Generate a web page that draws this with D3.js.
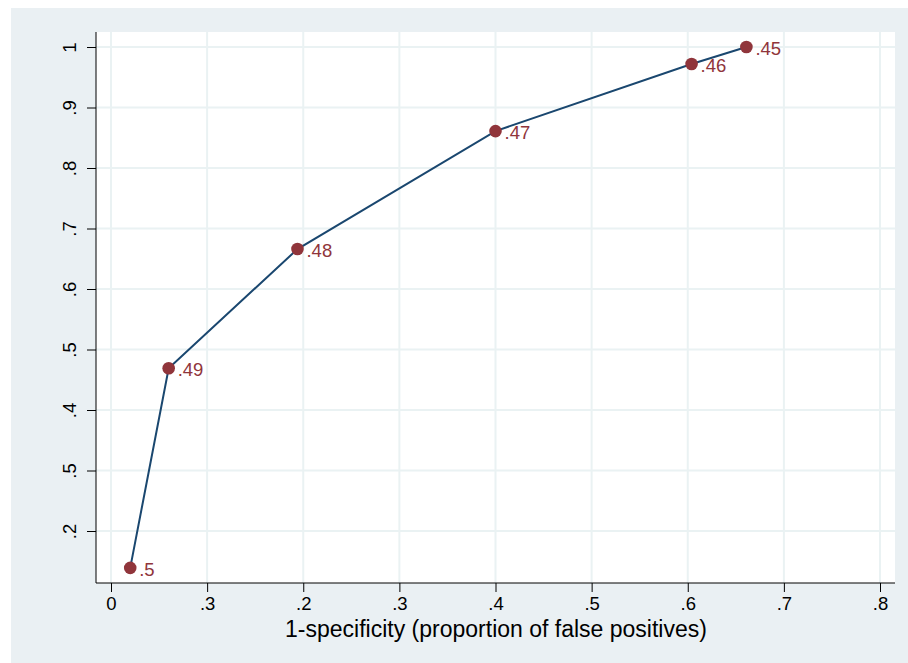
<!DOCTYPE html>
<html>
<head>
<meta charset="utf-8">
<title>ROC curve</title>
<script src="https://cdn.jsdelivr.net/npm/d3@7"></script>
<style>
  body { margin: 0; background: #fff; }
  text { font-family: "Liberation Sans", Arial, sans-serif; }
</style>
</head>
<body>
<div id="chart"></div>
<script>
// points of the curve: x = 1-specificity, y = sensitivity, label = cutoff
var fpr = [0.02, 0.06, 0.194, 0.4, 0.604, 0.661];
var tpr = [0.139, 0.469, 0.666, 0.861, 0.972, 1.0];
var cutLabels = [".5", ".49", ".48", ".47", ".46", ".45"];

// tick positions and the labels as printed on the picture
var xTicks = [0, 0.1, 0.2, 0.3, 0.4, 0.5, 0.6, 0.7, 0.8];
var xTickLabels = ["0", ".3", ".2", ".3", ".4", ".5", ".6", ".7", ".8"];
var yTicks = [0.2, 0.3, 0.4, 0.5, 0.6, 0.7, 0.8, 0.9, 1];
var yTickLabels = [".2", ".5", ".4", ".5", ".6", ".7", ".8", ".9", "1"];

var W = 908, H = 663;
var plot = { left: 96, top: 32, right: 895, bottom: 583 };

var x = d3.scaleLinear().domain([0, 0.8]).range([111, 880]);
var y = d3.scaleLinear().domain([0.2, 1]).range([531, 47]);

var svg = d3.select("#chart").append("svg")
    .attr("width", W)
    .attr("height", H);

// outer graph region
svg.append("rect")
    .attr("x", 11).attr("y", 8)
    .attr("width", W - 11).attr("height", H - 8)
    .attr("fill", "#eaf0f3");

// plot region
svg.append("rect")
    .attr("x", plot.left).attr("y", plot.top)
    .attr("width", plot.right - plot.left)
    .attr("height", plot.bottom - plot.top)
    .attr("fill", "#ffffff");

// grid
svg.append("g").selectAll("line")
    .data(xTicks).enter().append("line")
    .attr("x1", function(d) { return x(d); })
    .attr("x2", function(d) { return x(d); })
    .attr("y1", plot.top).attr("y2", plot.bottom)
    .attr("stroke", "#eaf2f3").attr("stroke-width", 2);

svg.append("g").selectAll("line")
    .data(yTicks).enter().append("line")
    .attr("x1", plot.left).attr("x2", plot.right)
    .attr("y1", function(d) { return y(d); })
    .attr("y2", function(d) { return y(d); })
    .attr("stroke", "#eaf2f3").attr("stroke-width", 2);

// x axis
var xAxis = d3.axisBottom(x)
    .tickValues(xTicks)
    .tickSize(9)
    .tickPadding(5)
    .tickFormat(function(d, i) { return xTickLabels[i]; });

var gx = svg.append("g")
    .attr("transform", "translate(0," + plot.bottom + ")")
    .call(xAxis);
gx.select(".domain")
    .attr("d", "M" + plot.left + ",0H" + plot.right)
    .attr("stroke", "#000");
gx.selectAll(".tick line").attr("stroke", "#000");
gx.selectAll(".tick text")
    .attr("font-size", 18.5)
    .attr("fill", "#000")
    .style("font-family", "Liberation Sans, Arial, sans-serif");

// y axis
var yAxis = d3.axisLeft(y)
    .tickValues(yTicks)
    .tickSize(9)
    .tickFormat(function(d, i) { return yTickLabels[i]; });

var gy = svg.append("g")
    .attr("transform", "translate(" + plot.left + ",0)")
    .call(yAxis);
gy.select(".domain")
    .attr("d", "M0," + plot.top + "V" + plot.bottom)
    .attr("stroke", "#000");
gy.selectAll(".tick line").attr("stroke", "#000");
gy.selectAll(".tick text")
    .attr("x", null).attr("dy", null)
    .attr("transform", "translate(-20,0) rotate(-90)")
    .attr("text-anchor", "middle")
    .attr("font-size", 18.5)
    .attr("fill", "#000")
    .style("font-family", "Liberation Sans, Arial, sans-serif");

// x axis title
svg.append("text")
    .attr("x", 496)
    .attr("y", 637)
    .attr("text-anchor", "middle")
    .attr("font-size", 23)
    .attr("fill", "#000")
    .text("1-specificity (proportion of false positives)");

// curve
var pts = fpr.map(function(d, i) { return { x: d, y: tpr[i], lab: cutLabels[i] }; });

var line = d3.line()
    .x(function(d) { return x(d.x); })
    .y(function(d) { return y(d.y); });

svg.append("path")
    .datum(pts)
    .attr("d", line)
    .attr("fill", "none")
    .attr("stroke", "#1a476f")
    .attr("stroke-width", 2);

svg.append("g").selectAll("circle")
    .data(pts).enter().append("circle")
    .attr("cx", function(d) { return x(d.x); })
    .attr("cy", function(d) { return y(d.y); })
    .attr("r", 6.3)
    .attr("fill", "#90353b");

svg.append("g").selectAll("text")
    .data(pts).enter().append("text")
    .attr("x", function(d) { return x(d.x) + 9; })
    .attr("y", function(d) { return y(d.y) + 8; })
    .attr("font-size", 18.5)
    .attr("fill", "#90353b")
    .text(function(d) { return d.lab; });
</script>
</body>
</html>
